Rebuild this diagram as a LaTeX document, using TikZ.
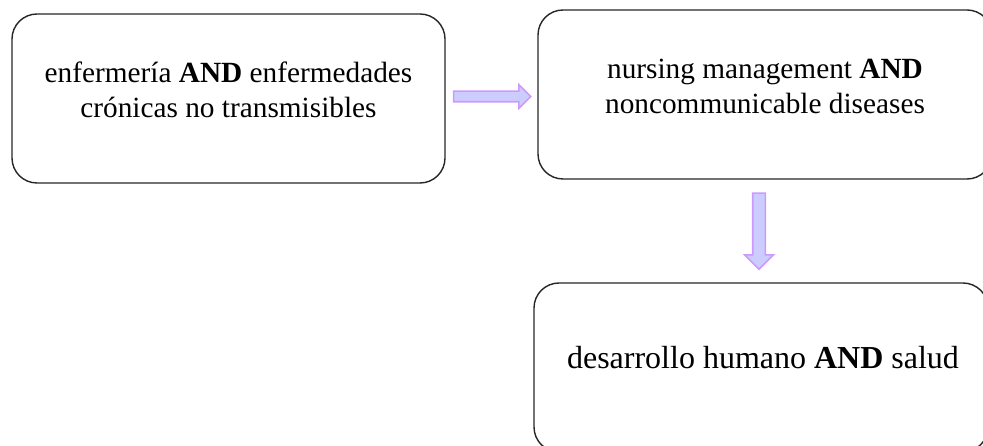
\documentclass[tikz,border=0pt]{standalone}
\usepackage{fontspec}
\setmainfont{Liberation Serif}
\usetikzlibrary{shapes.arrows,calc}

\definecolor{lila}{HTML}{CC99FF}
\definecolor{lilafondo}{HTML}{CCCCFF}

\tikzset{
    caja/.style={draw=black!85, line width=1.4pt, rounded corners=25pt, minimum width=433pt, minimum height=169pt},
    texto/.style={align=center, font=\fontsize{29.3}{35}\selectfont},
    flecha/.style={single arrow, draw=lila, fill=lilafondo, line width=1.6pt, inner sep=4.5pt, single arrow head extend=6.5pt, minimum height=77pt}
}

\begin{document}
\begin{tikzpicture}[x=1pt, y=-1pt]
    \useasboundingbox (0,0) rectangle (983,446);
    \clip (0,0) rectangle (983,446);

    \node[caja] (enf) at (228.5,98.5) {};
    \node[caja, minimum width=454pt] (nur) at (765,94.5) {};
    \node[caja, minimum width=454pt] (des) at (761,367.5) {};

    \node[texto] (enftxt) at (228.5,90) {enfermería \textbf{AND} enfermedades\\crónicas no transmisibles};
    \node[texto] (nurtxt) at (765,86) {nursing management \textbf{AND}\\noncommunicable diseases};
    \node[texto, font=\fontsize{32}{38}\selectfont] (destxt) at (763,358) {desarrollo humano \textbf{AND} salud};

    \node[flecha] (f1) at ($(enf.east)!0.5!(nur.west) + (-2,0)$) {};
    \node[flecha, shape border rotate=270, inner sep=5.5pt, single arrow head extend=8pt, minimum height=76pt]
        (f2) at ($(nur.south)!0.5!(des.north) + (-4,-3)$) {};
\end{tikzpicture}
\end{document}
